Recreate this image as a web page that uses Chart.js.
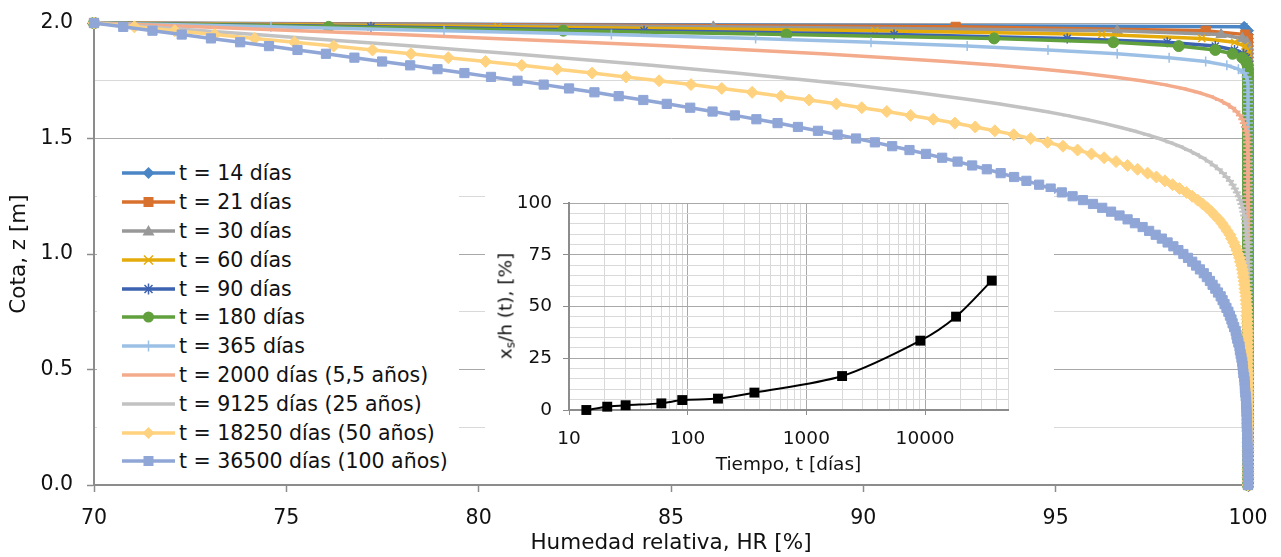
<!DOCTYPE html>
<html>
<head>
<meta charset="utf-8">
<script src="https://cdn.jsdelivr.net/npm/chart.js@4.4.1/dist/chart.umd.min.js"></script>
<style>
  html, body { margin: 0; padding: 0; background: #fff; overflow: hidden; }
  #wrap { position: relative; width: 1281px; height: 557px; font-family: "DejaVu Sans", sans-serif; color: #111; }
  #main { position: absolute; left: 0; top: 0; }
  #legend { position: absolute; left: 97px; top: 159px; width: 362px; height: 317px; background: #fff; }
  .row { height: 28.8px; display: flex; align-items: center; font-size: 20.5px; white-space: nowrap; }
  .row svg { margin-left: 25px; margin-right: 4px; flex: none; }
  #insetBox { position: absolute; left: 485px; top: 192px; width: 569px; height: 286px; background: #fff; }
  #inset { position: absolute; left: 0; top: 0; }
  #insetYTitle { position: absolute; left: 506px; top: 306px; transform: translate(-50%, -50%) rotate(-90deg);
    font-size: 18.5px; white-space: nowrap; }
  #insetYTitle sub { font-size: 12px; vertical-align: -3px; }
</style>
</head>
<body>
<div id="wrap">
  <canvas id="main" width="1281" height="557"></canvas>
  <div id="legend"></div>
  <div id="insetBox"><canvas id="inset" width="569" height="286"></canvas></div>
  <div id="insetYTitle">x<sub>s</sub>/h (t), [%]</div>
</div>
<script>
// depth nodes, z [m]
const zNodes = [
  2,1.9833,1.9667,1.95,1.9333,1.9167,1.9,1.8833,1.8667,1.85,1.8333,1.8167,
  1.8,1.7833,1.7667,1.75,1.7333,1.7167,1.7,1.6833,1.6667,1.65,1.6333,1.6167,
  1.6,1.5833,1.5667,1.55,1.5333,1.5167,1.5,1.4833,1.4667,1.45,1.4333,1.4167,
  1.4,1.3833,1.3667,1.35,1.3333,1.3167,1.3,1.2833,1.2667,1.25,1.2333,1.2167,
  1.2,1.1833,1.1667,1.15,1.1333,1.1167,1.1,1.0833,1.0667,1.05,1.0333,1.0167,
  1,0.9833,0.9667,0.95,0.9333,0.9167,0.9,0.8833,0.8667,0.85,0.8333,0.8167,
  0.8,0.7833,0.7667,0.75,0.7333,0.7167,0.7,0.6833,0.6667,0.65,0.6333,0.6167,
  0.6,0.5833,0.5667,0.55,0.5333,0.5167,0.5,0.4833,0.4667,0.45,0.4333,0.4167,
  0.4,0.3833,0.3667,0.35,0.3333,0.3167,0.3,0.2833,0.2667,0.25,0.2333,0.2167,
  0.2,0.1833,0.1667,0.15,0.1333,0.1167,0.1,0.0833,0.0667,0.05,0.0333,0.0167,
  0
];

// relative humidity HR [%] at each node
const hr14 = [
  70,99.9,100,100,100,100,100,100,100,100,100,100,
  100,100,100,100,100,100,100,100,100,100,100,100,
  100,100,100,100,100,100,100,100,100,100,100,100,
  100,100,100,100,100,100,100,100,100,100,100,100,
  100,100,100,100,100,100,100,100,100,100,100,100,
  100,100,100,100,100,100,100,100,100,100,100,100,
  100,100,100,100,100,100,100,100,100,100,100,100,
  100,100,100,100,100,100,100,100,100,100,100,100,
  100,100,100,100,100,100,100,100,100,100,100,100,
  100,100,100,100,100,100,100,100,100,100,100,100,
  100
];
const hr21 = [
  70,92.4,98.9,99.93,100,100,100,100,100,100,100,100,
  100,100,100,100,100,100,100,100,100,100,100,100,
  100,100,100,100,100,100,100,100,100,100,100,100,
  100,100,100,100,100,100,100,100,100,100,100,100,
  100,100,100,100,100,100,100,100,100,100,100,100,
  100,100,100,100,100,100,100,100,100,100,100,100,
  100,100,100,100,100,100,100,100,100,100,100,100,
  100,100,100,100,100,100,100,100,100,100,100,100,
  100,100,100,100,100,100,100,100,100,100,100,100,
  100,100,100,100,100,100,100,100,100,100,100,100,
  100
];
const hr30 = [
  70,86.1,96.6,99.3,99.85,99.97,100,100,100,100,100,100,
  100,100,100,100,100,100,100,100,100,100,100,100,
  100,100,100,100,100,100,100,100,100,100,100,100,
  100,100,100,100,100,100,100,100,100,100,100,100,
  100,100,100,100,100,100,100,100,100,100,100,100,
  100,100,100,100,100,100,100,100,100,100,100,100,
  100,100,100,100,100,100,100,100,100,100,100,100,
  100,100,100,100,100,100,100,100,100,100,100,100,
  100,100,100,100,100,100,100,100,100,100,100,100,
  100,100,100,100,100,100,100,100,100,100,100,100,
  100
];
const hr60 = [
  70,80.5,90.3,96.2,98.8,99.65,99.92,99.98,100,100,100,100,
  100,100,100,100,100,100,100,100,100,100,100,100,
  100,100,100,100,100,100,100,100,100,100,100,100,
  100,100,100,100,100,100,100,100,100,100,100,100,
  100,100,100,100,100,100,100,100,100,100,100,100,
  100,100,100,100,100,100,100,100,100,100,100,100,
  100,100,100,100,100,100,100,100,100,100,100,100,
  100,100,100,100,100,100,100,100,100,100,100,100,
  100,100,100,100,100,100,100,100,100,100,100,100,
  100,100,100,100,100,100,100,100,100,100,100,100,
  100
];
const hr90 = [
  70,77.2,84.3,90.8,95.3,97.9,99.15,99.65,99.88,99.96,99.99,100,
  100,100,100,100,100,100,100,100,100,100,100,100,
  100,100,100,100,100,100,100,100,100,100,100,100,
  100,100,100,100,100,100,100,100,100,100,100,100,
  100,100,100,100,100,100,100,100,100,100,100,100,
  100,100,100,100,100,100,100,100,100,100,100,100,
  100,100,100,100,100,100,100,100,100,100,100,100,
  100,100,100,100,100,100,100,100,100,100,100,100,
  100,100,100,100,100,100,100,100,100,100,100,100,
  100,100,100,100,100,100,100,100,100,100,100,100,
  100
];
const hr180 = [
  70,76.1,82.2,88.0,93.4,96.5,98.2,99.15,99.6,99.85,99.95,99.99,
  100,100,100,100,100,100,100,100,100,100,100,100,
  100,100,100,100,100,100,100,100,100,100,100,100,
  100,100,100,100,100,100,100,100,100,100,100,100,
  100,100,100,100,100,100,100,100,100,100,100,100,
  100,100,100,100,100,100,100,100,100,100,100,100,
  100,100,100,100,100,100,100,100,100,100,100,100,
  100,100,100,100,100,100,100,100,100,100,100,100,
  100,100,100,100,100,100,100,100,100,100,100,100,
  100,100,100,100,100,100,100,100,100,100,100,100,
  100
];
const hr365 = [
  70,74.6,79.1,83.45,87.2,90.2,92.7,94.8,96.6,97.95,98.9,99.45,
  99.75,99.9,99.96,99.99,100,100,100,100,100,100,100,100,
  100,100,100,100,100,100,100,100,100,100,100,100,
  100,100,100,100,100,100,100,100,100,100,100,100,
  100,100,100,100,100,100,100,100,100,100,100,100,
  100,100,100,100,100,100,100,100,100,100,100,100,
  100,100,100,100,100,100,100,100,100,100,100,100,
  100,100,100,100,100,100,100,100,100,100,100,100,
  100,100,100,100,100,100,100,100,100,100,100,100,
  100,100,100,100,100,100,100,100,100,100,100,100,
  100
];
const hr2000 = [
  70,72.68,75.33,77.9,80.39,82.76,84.97,87.03,88.92,90.62,92.15,93.48,
  94.66,95.66,96.51,97.23,97.82,98.31,98.69,99.01,99.25,99.44,99.59,99.7,
  99.79,99.85,99.89,99.92,99.95,99.97,99.98,99.98,99.99,99.99,100,100,
  100,100,100,100,100,100,100,100,100,100,100,100,
  100,100,100,100,100,100,100,100,100,100,100,100,
  100,100,100,100,100,100,100,100,100,100,100,100,
  100,100,100,100,100,100,100,100,100,100,100,100,
  100,100,100,100,100,100,100,100,100,100,100,100,
  100,100,100,100,100,100,100,100,100,100,100,100,
  100,100,100,100,100,100,100,100,100,100,100,100,
  100
];
const hr9125 = [
  70,71.41,72.81,74.21,75.59,76.95,78.29,79.6,80.88,82.12,83.32,84.49,
  85.62,86.69,87.71,88.69,89.62,90.5,91.34,92.11,92.84,93.51,94.15,94.74,
  95.28,95.77,96.23,96.64,97.02,97.37,97.69,97.96,98.22,98.44,98.64,98.82,
  98.98,99.11,99.24,99.35,99.44,99.53,99.6,99.66,99.71,99.76,99.8,99.83,
  99.86,99.88,99.9,99.92,99.93,99.95,99.96,99.96,99.97,99.98,99.98,99.98,
  99.99,99.99,99.99,99.99,99.99,99.99,99.99,100,100,100,100,100,
  100,100,100,100,100,100,100,100,100,100,100,100,
  100,100,100,100,100,100,100,100,100,100,100,100,
  100,100,100,100,100,100,100,100,100,100,100,100,
  100,100,100,100,100,100,100,100,100,100,100,100,
  100
];
const hr18250 = [
  70,71.05,72.1,73.14,74.18,75.21,76.23,77.24,78.24,79.21,80.18,81.12,
  82.04,82.95,83.83,84.69,85.52,86.32,87.11,87.86,88.59,89.3,89.96,90.61,
  91.23,91.82,92.38,92.91,93.42,93.91,94.35,94.79,95.19,95.57,95.93,96.26,
  96.57,96.87,97.13,97.39,97.62,97.84,98.04,98.22,98.4,98.55,98.69,98.82,
  98.94,99.05,99.14,99.24,99.32,99.39,99.46,99.53,99.57,99.63,99.67,99.71,
  99.74,99.78,99.8,99.83,99.85,99.87,99.88,99.9,99.91,99.92,99.93,99.95,
  99.95,99.96,99.97,99.97,99.97,99.98,99.98,99.98,99.99,99.99,99.99,99.99,
  99.99,99.99,99.99,99.99,99.99,99.99,99.99,100,100,100,100,100,
  100,100,100,100,100,100,100,100,100,100,100,100,
  100,100,100,100,100,100,100,100,100,100,100,100,
  100
];
const hr36500 = [
  70,70.76,71.52,72.28,73.04,73.8,74.55,75.29,76.03,76.77,77.49,78.22,
  78.93,79.63,80.32,81.01,81.69,82.35,83.01,83.64,84.28,84.89,85.5,86.08,
  86.66,87.22,87.77,88.3,88.82,89.33,89.81,90.3,90.75,91.2,91.63,92.05,
  92.45,92.83,93.21,93.57,93.92,94.24,94.57,94.87,95.16,95.44,95.71,95.97,
  96.21,96.44,96.66,96.87,97.06,97.26,97.43,97.6,97.76,97.91,98.06,98.19,
  98.32,98.44,98.55,98.65,98.75,98.85,98.93,99.01,99.08,99.15,99.22,99.29,
  99.34,99.39,99.44,99.49,99.53,99.57,99.6,99.64,99.68,99.7,99.72,99.75,
  99.78,99.79,99.81,99.83,99.85,99.86,99.87,99.88,99.9,99.91,99.92,99.92,
  99.93,99.94,99.95,99.95,99.96,99.96,99.97,99.97,99.97,99.97,99.98,99.98,
  99.98,99.98,99.99,99.99,99.99,99.99,99.99,100,100,100,100,100,
  100
];

const seriesLabels = [
  't = 14 días', 't = 21 días', 't = 30 días', 't = 60 días', 't = 90 días',
  't = 180 días', 't = 365 días', 't = 2000 días (5,5 años)', 't = 9125 días (25 años)',
  't = 18250 días (50 años)', 't = 36500 días (100 años)'
];
const seriesValues = [hr14, hr21, hr30, hr60, hr90, hr180, hr365, hr2000, hr9125, hr18250, hr36500];
const seriesColors = [
  '#4a86c5', '#d8702e', '#989898', '#e5ab0a', '#3d62b0', '#61a03d',
  '#9cc0e5', '#f3ab8c', '#c2c2c2', '#ffd27f', '#8fa6d7'
];
const seriesMarkers = [
  { style: 'rectRot', r: 5.5, bw: 1 },
  { style: 'rect', r: 6.5, bw: 1 },
  { style: 'triangle', r: 6, bw: 1 },
  { style: 'crossRot', r: 5, bw: 1.5 },
  { style: 'star', r: 5, bw: 1.5 },
  { style: 'circle', r: 5.5, bw: 1 },
  { style: 'cross', r: 5, bw: 1.5 },
  { style: 'line', r: 4, bw: 2 },
  { style: 'line', r: 4, bw: 2 },
  { style: 'rectRot', r: 6, bw: 1 },
  { style: 'rect', r: 6.5, bw: 1 }
];

// inset: x_s/h versus time
const insetDays = [14, 21, 30, 60, 90, 180, 365, 2000, 9125, 18250, 36500];
const insetRatio = [0, 1.6, 2.3, 3.2, 4.8, 5.5, 8.4, 16.4, 33.5, 45.1, 62.5];
const insetGridDays = [
  10, 20, 30, 40, 50, 60, 70, 80, 90,
  100, 200, 300, 400, 500, 600, 700, 800, 900,
  1000, 2000, 3000, 4000, 5000, 6000, 7000, 8000, 9000,
  10000, 20000, 30000, 40000, 50000
];
const insetTickLabels = [10, 100, 1000, 10000];

Chart.defaults.font.family = '"DejaVu Sans", sans-serif';
Chart.defaults.color = '#111';

const isMultiple = (v, step) => Math.abs(v / step - Math.round(v / step)) < 1e-6;
const axisGray = '#8c8c8c';
const majorGrid = '#a8a8a8';
const minorGrid = '#d9d9d9';

// keep the plot area where the layout padding puts it
const noEdgePadding = s => {
  s.paddingTop = 0; s.paddingBottom = 0; s.paddingLeft = 0; s.paddingRight = 0;
};

const datasets = seriesLabels.map((label, i) => ({
  label,
  data: seriesValues[i].map((hr, k) => ({ x: hr, y: zNodes[k] })),
  borderColor: seriesColors[i],
  backgroundColor: seriesColors[i],
  pointBackgroundColor: seriesColors[i],
  pointBorderColor: seriesColors[i],
  borderWidth: 3.5,
  pointStyle: seriesMarkers[i].style,
  pointRadius: seriesMarkers[i].r,
  pointBorderWidth: seriesMarkers[i].bw,
  showLine: true,
  clip: false,
  order: seriesLabels.length - i
}));

new Chart(document.getElementById('main'), {
  type: 'scatter',
  data: { datasets },
  options: {
    responsive: false,
    animation: false,
    devicePixelRatio: 1,
    layout: { padding: { top: 23, right: 33, left: 0, bottom: 0 } },
    plugins: { legend: { display: false }, tooltip: { enabled: false } },
    scales: {
      x: {
        type: 'linear',
        min: 70,
        max: 100,
        ticks: { stepSize: 5, font: { size: 20.5 }, padding: 14 },
        grid: { drawOnChartArea: false, tickLength: 7, tickColor: axisGray, tickWidth: 1.5 },
        border: { color: axisGray, width: 2 },
        title: {
          display: true, text: 'Humedad relativa, HR [%]',
          font: { size: 21.5 }, padding: { top: 0, bottom: 1 }
        },
        afterFit: s => { s.height = 72; noEdgePadding(s); }
      },
      y: {
        min: 0,
        max: 2,
        ticks: {
          stepSize: 0.25,
          autoSkip: false,
          padding: 14,
          font: { size: 20.5 },
          callback: v => isMultiple(v, 0.5) ? v.toFixed(1) : ''
        },
        grid: {
          color: c => isMultiple(c.tick.value, 0.5) ? majorGrid : minorGrid,
          lineWidth: 1,
          tickLength: 7,
          tickWidth: 1.5,
          tickColor: c => isMultiple(c.tick.value, 0.5) ? axisGray : 'rgba(0,0,0,0)'
        },
        border: { color: axisGray, width: 2 },
        title: {
          display: true, text: 'Cota, z [m]',
          font: { size: 21.5 }, padding: { top: 7, bottom: 0 }
        },
        afterFit: s => { s.width = 94; noEdgePadding(s); }
      }
    }
  }
});

// legend
const marker = (style, color) => {
  const cx = 26.5, cy = 10;
  switch (style) {
    case 'rectRot':
      return `<polygon points="${cx},${cy - 6} ${cx + 6},${cy} ${cx},${cy + 6} ${cx - 6},${cy}" fill="${color}"/>`;
    case 'rect':
      return `<rect x="${cx - 5}" y="${cy - 5}" width="10" height="10" fill="${color}"/>`;
    case 'triangle':
      return `<polygon points="${cx},${cy - 6} ${cx + 6},${cy + 4.5} ${cx - 6},${cy + 4.5}" fill="${color}"/>`;
    case 'crossRot':
      return `<path d="M${cx - 4.5} ${cy - 4.5}L${cx + 4.5} ${cy + 4.5}M${cx + 4.5} ${cy - 4.5}L${cx - 4.5} ${cy + 4.5}" stroke="${color}" stroke-width="1.5"/>`;
    case 'star':
      return `<path d="M${cx - 4} ${cy - 4}L${cx + 4} ${cy + 4}M${cx + 4} ${cy - 4}L${cx - 4} ${cy + 4}M${cx} ${cy - 5.5}L${cx} ${cy + 5.5}" stroke="${color}" stroke-width="1.5"/>`;
    case 'circle':
      return `<circle cx="${cx}" cy="${cy}" r="5.5" fill="${color}"/>`;
    case 'cross':
      return `<path d="M${cx} ${cy - 5.5}L${cx} ${cy + 5.5}" stroke="${color}" stroke-width="1.5"/>`;
    default:
      return '';
  }
};

const legendBox = document.getElementById('legend');
seriesLabels.forEach((label, i) => {
  const row = document.createElement('div');
  row.className = 'row';
  row.innerHTML =
    `<svg width="53" height="20"><line x1="0" y1="10" x2="53" y2="10" stroke="${seriesColors[i]}" stroke-width="3.5"/>` +
    marker(seriesMarkers[i].style, seriesColors[i]) + `</svg><span>${label}</span>`;
  legendBox.appendChild(row);
});

// inset chart
new Chart(document.getElementById('inset'), {
  type: 'scatter',
  data: {
    datasets: [{
      data: insetDays.map((d, i) => ({ x: d, y: insetRatio[i] })),
      borderColor: '#000',
      backgroundColor: '#000',
      pointBackgroundColor: '#000',
      borderWidth: 2,
      showLine: true,
      tension: 0.3,
      pointStyle: 'rect',
      pointRadius: 7,
      pointBorderWidth: 0,
      clip: false
    }]
  },
  options: {
    responsive: false,
    animation: false,
    devicePixelRatio: 1,
    layout: { padding: { top: 11, right: 46, left: 0, bottom: 0 } },
    plugins: { legend: { display: false }, tooltip: { enabled: false } },
    scales: {
      x: {
        type: 'logarithmic',
        min: 10,
        max: 50000,
        afterBuildTicks: s => { s.ticks = insetGridDays.map(v => ({ value: v })); },
        ticks: {
          autoSkip: false,
          maxRotation: 0,
          font: { size: 18.5 },
          padding: 13,
          callback: v => insetTickLabels.includes(v) ? String(v) : ''
        },
        grid: {
          color: c => insetTickLabels.includes(c.tick.value) ? majorGrid : minorGrid,
          tickLength: 5,
          tickColor: c => insetTickLabels.includes(c.tick.value) ? axisGray : 'rgba(0,0,0,0)'
        },
        border: { color: axisGray, width: 2 },
        title: {
          display: true, text: 'Tiempo, t [días]',
          font: { size: 18.5 }, padding: { top: 0, bottom: 2 }
        },
        afterFit: s => { s.height = 68; noEdgePadding(s); }
      },
      y: {
        min: 0,
        max: 100,
        ticks: {
          stepSize: 5,
          autoSkip: false,
          font: { size: 18.5 },
          padding: 11,
          callback: v => isMultiple(v, 25) ? String(v) : ''
        },
        grid: {
          color: c => isMultiple(c.tick.value, 25) ? majorGrid : minorGrid,
          tickLength: 6,
          tickColor: c => isMultiple(c.tick.value, 25) ? axisGray : 'rgba(0,0,0,0)'
        },
        border: { color: axisGray, width: 2 },
        afterFit: s => { s.width = 84; noEdgePadding(s); }
      }
    }
  }
});
</script>
</body>
</html>
